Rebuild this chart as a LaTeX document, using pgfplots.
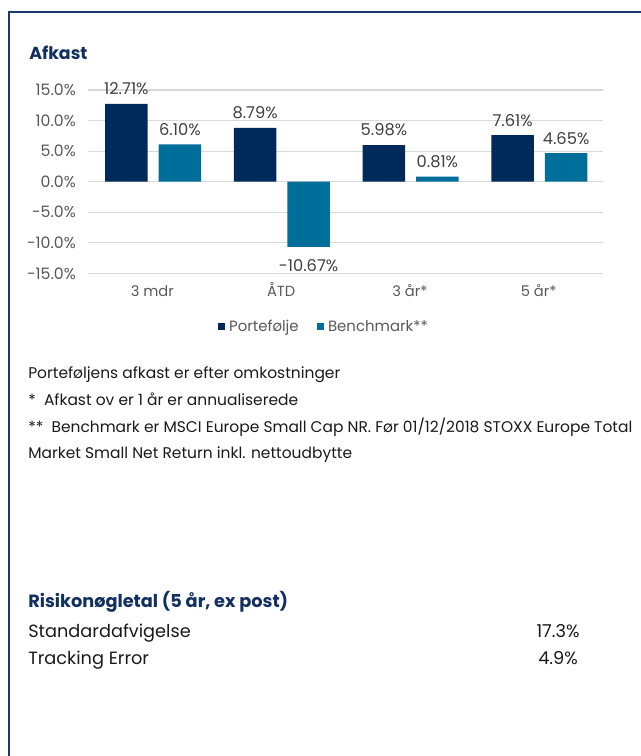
\documentclass[border=0pt]{standalone}
\usepackage{pgfplots}
\pgfplotsset{compat=1.18}
\usepackage{fontspec}
\setmainfont{Poppins}
\definecolor{navy}{HTML}{002A5C}
\definecolor{tealb}{HTML}{006E9B}
\definecolor{frame}{HTML}{1B3A6B}
\definecolor{titlec}{HTML}{12305F}
\definecolor{gridc}{HTML}{D9D9D9}
\definecolor{tickc}{HTML}{595959}
\definecolor{labc}{HTML}{404040}
\definecolor{bodyc}{HTML}{1A1A1A}
\begin{document}
\begin{tikzpicture}
\path[use as bounding box] (0,0) rectangle (480.75pt,567pt);
\begin{scope}[x=0.75pt,y=-0.75pt,yshift=567pt]
\draw[frame,line width=1.6pt] (650,11.7) -- (9,11.7) -- (9,770);
\node[anchor=base west,inner sep=0pt,font=\fontsize{13pt}{15pt}\selectfont\bfseries,text=titlec] at (29,60) {Afkast};
\begin{scope}[every node/.style={anchor=base west,inner sep=0pt,font=\fontsize{11.6pt}{13pt}\selectfont,text=bodyc}]
\node at (28,378.5) {Porteføljens afkast er efter omkostninger};
\node at (28,405.5) {* \ Afkast ov er 1 år er annualiserede};
\node at (28,432.5) {** \ Benchmark er MSCI Europe Small Cap NR. Før 01/12/2018 STOXX Europe Total};
\node at (28,459) {Market Small Net Return inkl. nettoudbytte};
\end{scope}
\node[anchor=base west,inner sep=0pt,font=\fontsize{13.3pt}{15pt}\selectfont\bfseries,text=titlec] at (28,607.3) {Risikonøgletal (5 år, ex post)};
\begin{scope}[every node/.style={inner sep=0pt,font=\fontsize{13.3pt}{15pt}\selectfont,text=bodyc}]
\node[anchor=base west] at (28,637.3) {Standardafvigelse};
\node[anchor=base west] at (28,665) {Tracking Error};
\node[anchor=base] at (558,637.3) {17.3\%};
\node[anchor=base] at (558,665) {4.9\%};
\end{scope}
\end{scope}
\begin{axis}[
  at={(66pt,362pt)}, anchor=south west,
  width=386.25pt, height=137.5pt, scale only axis,
  xmin=-0.5, xmax=3.5, ymin=-15, ymax=15,
  axis line style={draw=none}, major tick length=0pt,
  ytick={-15,-10,-5,0,5,10,15},
  ymajorgrids, grid style={gridc, line width=0.9pt},
  xtick={0,1,2,3}, xticklabels={3 mdr, ÅTD, 3 år*, 5 år*},
  /pgf/number format/assume math mode=true,
  yticklabel={\pgfmathprintnumber[fixed,fixed zerofill,precision=1]{\tick}\%},
  yticklabel style={anchor=east, inner sep=0pt, xshift=-9pt, font=\fontsize{11.8pt}{13pt}\selectfont, text=tickc},
  xticklabel style={anchor=base, inner sep=0pt, yshift=-17.3pt, font=\fontsize{11pt}{13pt}\selectfont, text=tickc},
  ybar, bar width=31.9pt,
  nodes near coords={\pgfmathprintnumber[fixed,fixed zerofill,precision=2]{\pgfplotspointmeta}\%},
  visualization depends on={y \as \rawy},
  every node near coord/.append style={font=\fontsize{12.2pt}{13pt}\selectfont, text=labc, inner ysep=6.5pt, inner xsep=0pt, yshift={(\rawy<0)*(-3pt)}},
  legend style={at={(0.456,-0.291)}, anchor=center, draw=none, fill=none, legend columns=2, font=\fontsize{11.2pt}{13pt}\selectfont, text=tickc, inner sep=0pt, nodes={inner sep=0pt}, /tikz/every odd column/.append style={column sep=3pt}, /tikz/every even column/.append style={column sep=13.5pt}},
  legend image code/.code={\fill[#1] (0pt,-2.75pt) rectangle (5.5pt,2.75pt);},
  clip=false,
]
\addplot[fill=navy, draw=none, bar shift=-19.5pt] coordinates {(0,12.71) (1,8.79) (2,5.98) (3,7.61)};
\addplot[fill=tealb, draw=none, bar shift=20.6pt] coordinates {(0,6.10) (1,-10.67) (2,0.81) (3,4.65)};
\legend{Portefølje, Benchmark**}
\end{axis}
\end{tikzpicture}
\end{document}
